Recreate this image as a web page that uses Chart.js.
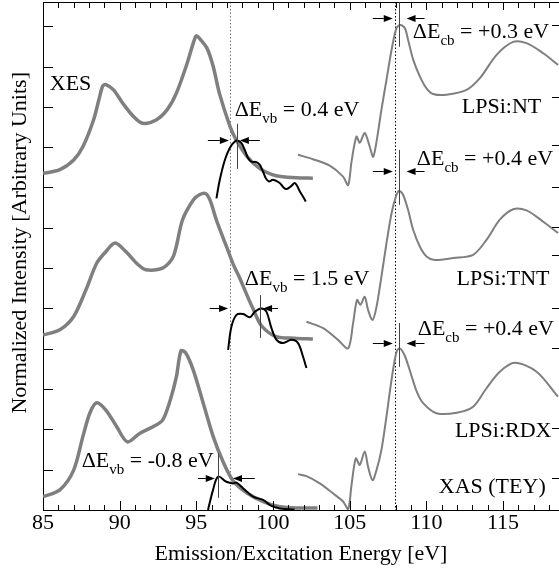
<!DOCTYPE html>
<html>
<head>
<meta charset="utf-8">
<script src="https://cdn.jsdelivr.net/npm/chart.js@4.4.1/dist/chart.umd.min.js"></script>
<style>
  html, body { margin: 0; padding: 0; background: #fff; }
  #wrap { width: 559px; height: 568px; }
</style>
</head>
<body>
<div id="wrap"><canvas id="c" width="559" height="568"></canvas></div>
<script>
// ── Ejes ─────────────────────────────────────────────────────────────────────
const xMin = 85, xMax = 118.65;
const yMin = 0,  yMax = 12.6;
const xTicks      = [85, 90, 95, 100, 105, 110, 115];
const yLeftTicks  = [0, 1, 2, 3, 4, 5, 6, 7, 8, 9, 10, 11, 12];
const yRightTicks = [12.03, 10.25, 9.06, 8.01, 7.02, 6.33, 5.01, 4.02, 2.03, 0.79];

// ── XES (gris, ruidoso) ──────────────────────────────────────────────────────
const xesNT_E = [85.0, 86.1, 87.0, 87.6, 88.3, 88.7, 88.9, 89.1, 89.6, 90.2, 90.9, 91.5, 92.4, 93.1, 93.7, 94.4, 94.8, 95.0, 95.2, 95.7, 96.1, 96.5, 97.2, 97.6, 98.3, 99.1, 100.0, 100.5, 101.5, 102.6];
const xesNT_I = [8.35, 8.44, 8.68, 9.01, 9.68, 10.26, 10.52, 10.55, 10.42, 10.09, 9.76, 9.59, 9.68, 9.93, 10.34, 11.08, 11.58, 11.76, 11.70, 11.45, 11.0, 10.34, 9.51, 9.18, 8.77, 8.48, 8.31, 8.27, 8.24, 8.23];

const xesTNT_E = [85.0, 86.1, 87.0, 87.8, 88.5, 89.1, 89.7, 90.4, 91.1, 91.7, 92.8, 93.5, 94.1, 94.8, 95.2, 95.6, 95.9, 96.3, 97.0, 97.4, 97.8, 98.3, 98.7, 99.25, 100.2, 101.4, 102.6];
const xesTNT_I = [4.34, 4.47, 4.80, 5.46, 6.12, 6.41, 6.62, 6.41, 6.12, 5.96, 6.00, 6.29, 7.20, 7.69, 7.82, 7.85, 7.68, 7.20, 6.50, 6.10, 5.78, 5.33, 4.99, 4.57, 4.30, 4.26, 4.24];

const xesRDX_E = [85.0, 86.1, 87.0, 87.6, 88.05, 88.5, 89.1, 89.8, 90.5, 91.3, 92.2, 92.8, 93.3, 93.7, 94.0, 94.3, 94.8, 95.45, 96.1, 96.75, 97.4, 98.3, 99.35, 100.45, 101.75, 102.9];
const xesRDX_I = [0.33, 0.50, 0.99, 1.82, 2.40, 2.66, 2.48, 2.07, 1.69, 1.90, 2.07, 2.23, 2.73, 3.31, 3.95, 3.90, 3.47, 2.65, 1.82, 1.19, 0.72, 0.42, 0.21, 0.08, 0.05, 0.05];

// ── Cálculo (negro) ──────────────────────────────────────────────────────────
const calcNT_E = [96.31, 96.53, 96.86, 97.18, 97.51, 97.72, 97.94, 98.16, 98.37, 98.59, 98.92, 99.14, 99.35, 99.53, 99.74, 100.0, 100.44, 100.66, 100.88, 101.20, 101.42, 101.57, 101.75, 101.96, 102.14];
const calcNT_I = [7.73, 8.19, 8.68, 8.98, 9.14, 9.16, 9.10, 8.93, 8.73, 8.64, 8.63, 8.56, 8.39, 8.23, 8.15, 8.19, 8.11, 8.01, 7.96, 8.04, 8.11, 8.04, 7.90, 7.77, 7.65];

const calcTNT_E = [97.07, 97.29, 97.62, 98.05, 98.49, 98.82, 99.25, 99.57, 99.90, 100.23, 100.66, 101.20, 101.63, 101.96, 102.18];
const calcTNT_I = [3.97, 4.55, 4.84, 4.86, 4.78, 4.92, 5.00, 4.92, 4.51, 4.22, 4.14, 4.22, 4.14, 3.80, 3.52];

const calcRDX_E = [95.76, 96.09, 96.42, 96.96, 97.39, 97.62, 98.16, 98.70, 99.35, 99.90, 100.44, 101.4];
const calcRDX_I = [0.0, 0.50, 0.83, 0.70, 0.66, 0.68, 0.50, 0.33, 0.25, 0.10, 0.04, 0.01];

// ── XAS (TEY, gris) ──────────────────────────────────────────────────────────
const xasNT_E = [101.63, 102.61, 103.70, 104.57, 104.90, 105.12, 105.44, 105.66, 105.98, 106.31, 106.53, 106.77, 107.07, 107.40, 107.73, 108.05, 108.31, 108.60, 108.81, 109.14, 109.58, 110.01, 110.44, 111.31, 112.62, 113.49, 114.58, 115.66, 116.53, 117.62, 118.59];
const xasNT_I = [8.81, 8.70, 8.54, 8.27, 8.06, 8.64, 9.26, 9.11, 9.35, 9.01, 8.76, 9.18, 9.93, 10.67, 11.41, 11.95, 12.03, 11.95, 11.66, 11.17, 10.75, 10.46, 10.32, 10.30, 10.42, 10.71, 11.29, 11.61, 11.58, 11.33, 11.04];

const xasTNT_E = [102.18, 103.27, 104.24, 104.90, 105.22, 105.48, 105.70, 105.98, 106.20, 106.49, 106.75, 107.07, 107.40, 107.73, 108.01, 108.22, 108.48, 108.81, 109.14, 109.58, 110.01, 110.55, 111.75, 113.05, 113.92, 114.79, 115.66, 116.53, 117.62, 118.59];
const xasTNT_I = [4.67, 4.51, 4.22, 4.01, 4.63, 5.21, 5.09, 5.29, 4.96, 4.71, 5.04, 5.79, 6.62, 7.36, 7.77, 7.92, 7.82, 7.44, 6.95, 6.53, 6.29, 6.20, 6.25, 6.33, 6.70, 7.20, 7.46, 7.43, 7.15, 6.87];

const xasRDX_E = [101.63, 102.18, 103.05, 103.92, 104.57, 104.90, 105.12, 105.40, 105.66, 105.98, 106.20, 106.49, 106.75, 107.07, 107.40, 107.73, 108.05, 108.27, 108.60, 109.03, 109.38, 109.79, 110.66, 111.97, 113.05, 113.92, 114.79, 115.77, 117.19, 118.59];
const xasRDX_I = [0.89, 0.84, 0.66, 0.41, 0.21, 0.02, 0.62, 1.28, 1.12, 1.45, 1.07, 0.74, 0.99, 1.49, 2.32, 3.23, 3.92, 4.01, 3.82, 3.33, 2.93, 2.65, 2.40, 2.41, 2.56, 3.02, 3.43, 3.65, 3.43, 2.81];

// ── Anotaciones (en unidades de datos) ───────────────────────────────────────
const dottedE     = [97.18, 107.94];
const vbMarkE     = [97.65, 99.14, 96.42];
const vbMarkLo    = [8.46, 4.27, 0.30];
const vbMarkHi    = [9.58, 5.33, 1.41];
const vbArrowY    = [9.18, 5.00, 0.80];
const vbArrowL    = [[95.75, 97.12], [95.87, 97.07], [95.11, 96.20]];
const vbArrowR    = [[99.14, 97.84], [100.33, 99.35], [98.81, 97.39]];
const cbMarkE     = 108.22;
const cbMarkLo    = [11.49, 7.57, 3.55];
const cbMarkHi    = [12.6, 8.93, 4.64];
const cbArrowY    = [12.21, 8.41, 4.14];
const cbArrowL    = [106.51, 107.81];
const cbArrowR    = [109.88, 108.71];

const textLabels = [
  { E: 85.44,  I: 10.42, parts: [['XES']] },
  { E: 97.50,  I: 9.78,  parts: [['ΔE'], ['vb', 1], [' = 0.4 eV']] },
  { E: 109.12, I: 11.71, parts: [['ΔE'], ['cb', 1], [' = +0.3 eV']] },
  { E: 112.31, I: 9.85,  parts: [['LPSi:NT']] },
  { E: 109.38, I: 8.56,  parts: [['ΔE'], ['cb', 1], [' = +0.4 eV']] },
  { E: 98.16,  I: 5.58,  parts: [['ΔE'], ['vb', 1], [' = 1.5 eV']] },
  { E: 111.97, I: 5.58,  parts: [['LPSi:TNT']] },
  { E: 109.44, I: 4.34,  parts: [['ΔE'], ['cb', 1], [' = +0.4 eV']] },
  { E: 111.86, I: 1.82,  parts: [['LPSi:RDX']] },
  { E: 110.81, I: 0.42,  parts: [['XAS (TEY)']] },
  { E: 87.52,  I: 1.07,  parts: [['ΔE'], ['vb', 1], [' = -0.8 eV']] },
];

const FONT = "'Liberation Serif', 'Times New Roman', Times, serif";
const GRAY = '#7f7f7f';

const pts = (E, I) => E.map((e, i) => ({ x: e, y: I[i] }));

function line(data, color, width, tension, order) {
  return { data, borderColor: color, borderWidth: width, tension, order,
           pointRadius: 0, showLine: true, fill: false };
}

// ── Decoración: ticks interiores, marcadores, flechas, textos ────────────────
function arrow(ctx, x0, x1, py) {
  const dir = Math.sign(x1 - x0), head = 9, hw = 3.5;
  ctx.beginPath(); ctx.moveTo(x0, py); ctx.lineTo(x1 - dir * head, py); ctx.stroke();
  ctx.beginPath();
  ctx.moveTo(x1, py);
  ctx.lineTo(x1 - dir * head, py - hw);
  ctx.lineTo(x1 - dir * head, py + hw);
  ctx.closePath(); ctx.fill();
}

function drawRich(ctx, px, py, parts) {
  let cx = px;
  parts.forEach(([t, sub]) => {
    ctx.font = (sub ? 15 : 22) + 'px ' + FONT;
    ctx.fillText(t, cx, py + (sub ? 7 : 0));
    cx += ctx.measureText(t).width;
  });
}

const decor = {
  id: 'decor',
  beforeDatasetsDraw(chart) {
    const { ctx, chartArea: a, scales: { x } } = chart;
    ctx.save();
    ctx.lineWidth = 1;
    ctx.setLineDash([1.5, 2]);
    dottedE.forEach((e, i) => {
      const px = Math.round(x.getPixelForValue(e)) + 0.5;
      ctx.strokeStyle = i === 0 ? '#777' : '#000';
      ctx.beginPath(); ctx.moveTo(px, a.top); ctx.lineTo(px, a.bottom); ctx.stroke();
    });
    ctx.restore();
  },
  afterDatasetsDraw(chart) {
    const { ctx, chartArea: a, scales: { x, y } } = chart;
    ctx.save();
    ctx.strokeStyle = '#000'; ctx.fillStyle = '#000'; ctx.lineWidth = 1;

    // marco superior
    ctx.beginPath(); ctx.moveTo(a.left, a.top + 0.5); ctx.lineTo(a.right, a.top + 0.5); ctx.stroke();

    // ticks eje x (abajo y arriba)
    for (let v = Math.ceil(xMin); v <= xMax; v++) {
      const major = xTicks.includes(v);
      const px = Math.round(x.getPixelForValue(v)) + 0.5;
      ctx.beginPath();
      ctx.moveTo(px, a.bottom); ctx.lineTo(px, a.bottom - (major ? 9 : 5));
      ctx.moveTo(px, a.top);    ctx.lineTo(px, a.top + (major ? 8 : 6));
      ctx.stroke();
    }
    // ticks eje y
    yLeftTicks.forEach(v => {
      const py = Math.round(y.getPixelForValue(v)) + 0.5;
      ctx.beginPath(); ctx.moveTo(a.left, py); ctx.lineTo(a.left + 10, py); ctx.stroke();
    });
    yRightTicks.forEach(v => {
      const py = Math.round(y.getPixelForValue(v)) + 0.5;
      ctx.beginPath(); ctx.moveTo(a.right, py); ctx.lineTo(a.right - 7, py); ctx.stroke();
    });

    // marcadores verticales
    ctx.strokeStyle = '#444';
    vbMarkE.forEach((e, i) => {
      const px = Math.round(x.getPixelForValue(e)) + 0.5;
      ctx.beginPath(); ctx.moveTo(px, y.getPixelForValue(vbMarkLo[i])); ctx.lineTo(px, y.getPixelForValue(vbMarkHi[i])); ctx.stroke();
    });
    cbMarkLo.forEach((lo, i) => {
      const px = Math.round(x.getPixelForValue(cbMarkE)) + 0.5;
      ctx.beginPath(); ctx.moveTo(px, y.getPixelForValue(lo)); ctx.lineTo(px, y.getPixelForValue(cbMarkHi[i])); ctx.stroke();
    });

    // flechas
    ctx.strokeStyle = '#000';
    vbArrowY.forEach((v, i) => {
      const py = Math.round(y.getPixelForValue(v)) + 0.5;
      arrow(ctx, x.getPixelForValue(vbArrowL[i][0]), x.getPixelForValue(vbArrowL[i][1]), py);
      arrow(ctx, x.getPixelForValue(vbArrowR[i][0]), x.getPixelForValue(vbArrowR[i][1]), py);
    });
    cbArrowY.forEach(v => {
      const py = Math.round(y.getPixelForValue(v)) + 0.5;
      arrow(ctx, x.getPixelForValue(cbArrowL[0]), x.getPixelForValue(cbArrowL[1]), py);
      arrow(ctx, x.getPixelForValue(cbArrowR[0]), x.getPixelForValue(cbArrowR[1]), py);
    });

    // textos
    ctx.textBaseline = 'alphabetic'; ctx.textAlign = 'left';
    textLabels.forEach(({ E, I, parts }) => {
      drawRich(ctx, x.getPixelForValue(E), y.getPixelForValue(I), parts);
    });

    // título eje y
    ctx.font = '22px ' + FONT;
    ctx.textAlign = 'center';
    ctx.translate(26, a.top + (a.bottom - a.top) * 0.474);
    ctx.rotate(-Math.PI / 2);
    ctx.fillText('Normalized Intensity [Arbitrary Units]', 0, 0);
    ctx.restore();
  }
};

new Chart(document.getElementById('c'), {
  type: 'scatter',
  data: {
    datasets: [
      line(pts(calcNT_E,  calcNT_I),  '#000', 2, 0.35, 0),
      line(pts(calcTNT_E, calcTNT_I), '#000', 2, 0.35, 0),
      line(pts(calcRDX_E, calcRDX_I), '#000', 2, 0.35, 0),
      line(pts(xesNT_E,   xesNT_I),   GRAY, 3.5, 0.3, 1),
      line(pts(xesTNT_E,  xesTNT_I),  GRAY, 3.5, 0.3, 1),
      line(pts(xesRDX_E,  xesRDX_I),  GRAY, 3.5, 0.3, 1),
      line(pts(xasNT_E,   xasNT_I),   GRAY, 2, 0.3, 1),
      line(pts(xasTNT_E,  xasTNT_I),  GRAY, 2, 0.3, 1),
      line(pts(xasRDX_E,  xasRDX_I),  GRAY, 2, 0.3, 1),
    ],
  },
  options: {
    responsive: false, animation: false,
    layout: { padding: { top: 2, right: 0, left: 0, bottom: 0 } },
    plugins: { legend: { display: false }, tooltip: { enabled: false } },
    scales: {
      x: {
        type: 'linear', min: xMin, max: xMax,
        afterBuildTicks: s => { s.ticks = xTicks.map(v => ({ value: v })); },
        afterFit: s => { s.height = 58; },
        ticks: { color: '#000', font: { family: FONT, size: 22 }, padding: 0, maxRotation: 0, autoSkip: false },
        grid: { display: false, drawTicks: false },
        border: { display: true, color: '#000', width: 1 },
        title: { display: true, text: 'Emission/Excitation Energy [eV]', color: '#000',
                 font: { family: FONT, size: 22 }, padding: { top: 0, bottom: 1 } },
      },
      y: {
        type: 'linear', min: yMin, max: yMax,
        afterFit: s => { s.width = 43; },
        ticks: { display: false },
        grid: { display: false, drawTicks: false },
        border: { display: true, color: '#000', width: 1 },
      },
    },
  },
  plugins: [decor],
});
</script>
</body>
</html>
